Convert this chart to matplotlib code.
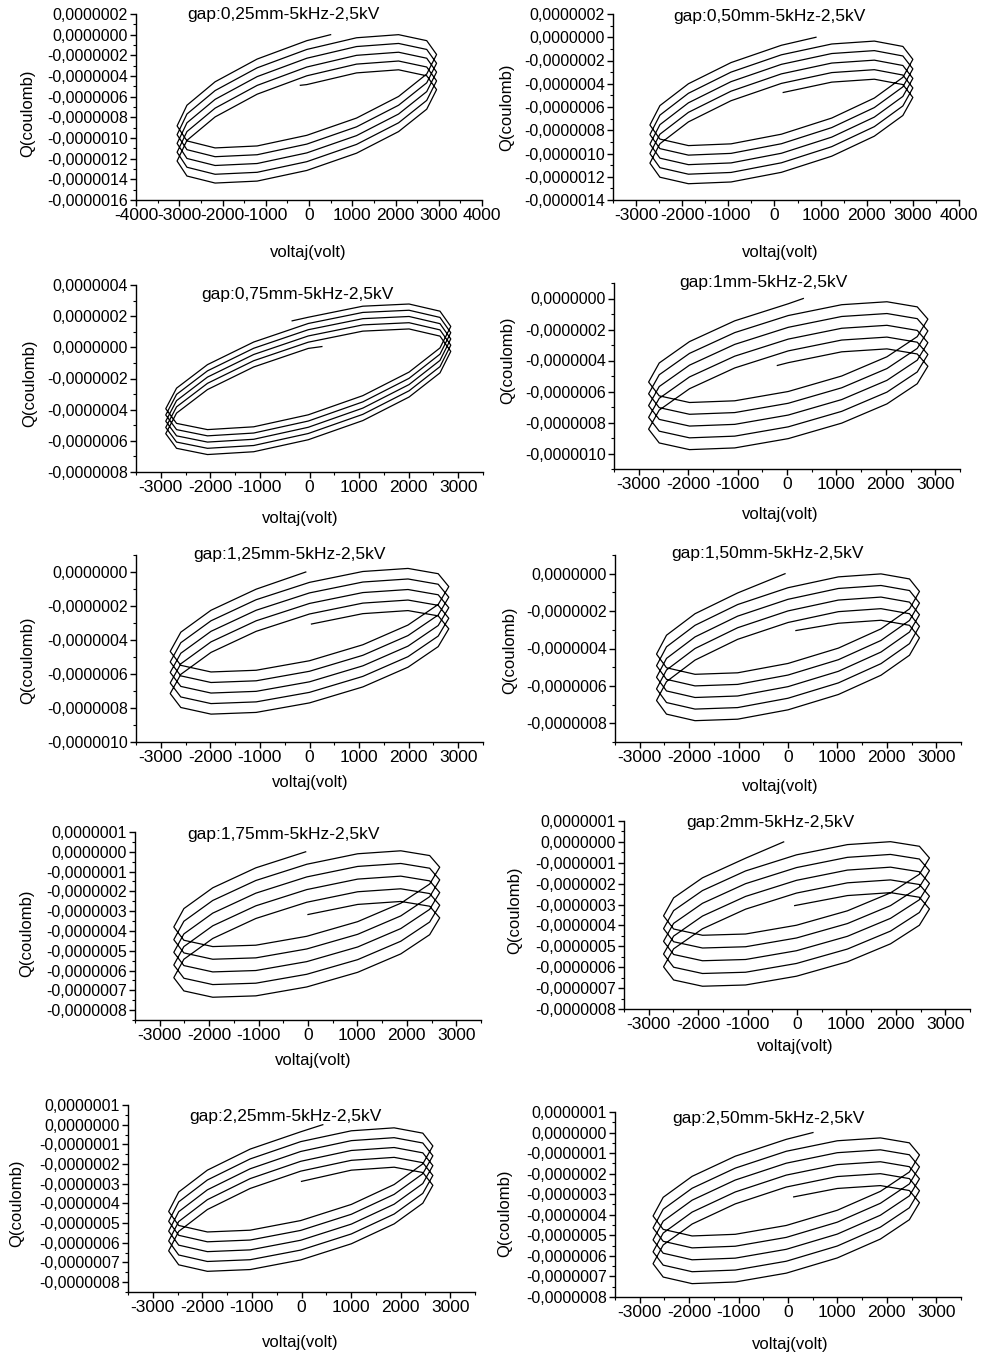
import matplotlib
matplotlib.use("Agg")
import matplotlib.pyplot as plt
from matplotlib.ticker import MultipleLocator, FuncFormatter

plt.rcParams['font.family'] = ['Liberation Sans', 'DejaVu Sans']
plt.rcParams['axes.unicode_minus'] = False

# Q-V Lissajous traces.
# voltages in volt, charges in units of 1e-7 coulomb.
# vcyc = voltage at the 16 read points of one period (same every period),
# q = charge at each read point along the trace, start/end = free ends of the trace.

titles = ["gap:0,25mm-5kHz-2,5kV", "gap:0,50mm-5kHz-2,5kV", "gap:0,75mm-5kHz-2,5kV",
          "gap:1mm-5kHz-2,5kV", "gap:1,25mm-5kHz-2,5kV", "gap:1,50mm-5kHz-2,5kV",
          "gap:1,75mm-5kHz-2,5kV", "gap:2mm-5kHz-2,5kV", "gap:2,25mm-5kHz-2,5kV",
          "gap:2,50mm-5kHz-2,5kV"]

p1_vcyc = [-50, -1199, -2171, -2822, -3050, -2822, -2171, -1199, -50, 1099, 2071, 2722, 2950, 2722, 2071, 1099]
p1_first = 0
p1_start = (500, 0.0)
p1_end = (-200, -4.9)
p1_q = [-0.58, -2.36, -4.56, -6.83, -8.83, -10.28, -10.96, -10.77, -9.74, -8.07, -5.98, -3.81, -1.92, -0.58, 0.00, -0.30,
        -1.43, -3.21, -5.41, -7.68, -9.68, -11.13, -11.81, -11.62, -10.59, -8.92, -6.83, -4.66, -2.77, -1.43, -0.85, -1.15,
        -2.28, -4.06, -6.26, -8.53, -10.53, -11.98, -12.66, -12.47, -11.44, -9.77, -7.68, -5.51, -3.62, -2.28, -1.70, -2.00,
        -3.13, -4.91, -7.11, -9.38, -11.38, -12.83, -13.51, -13.32, -12.29, -10.62, -8.53, -6.36, -4.47, -3.13, -2.55, -2.85,
        -3.98, -5.76, -7.96, -10.23, -12.23, -13.68, -14.36, -14.17, -13.14, -11.47, -9.38, -7.21, -5.32, -3.98, -3.40, -3.70,
        -4.83]

p2_vcyc = [150, -942, -1865, -2483, -2700, -2483, -1865, -942, 150, 1242, 2165, 2783, 3000, 2783, 2165, 1242]
p2_first = 0
p2_start = (900, 0.0)
p2_end = (190, -4.75)
p2_q = [-0.69, -2.18, -4.00, -5.88, -7.55, -8.76, -9.32, -9.17, -8.34, -6.95, -5.23, -3.45, -1.90, -0.79, -0.33, -0.58,
        -1.51, -3.00, -4.82, -6.70, -8.37, -9.58, -10.14, -9.99, -9.16, -7.77, -6.05, -4.27, -2.72, -1.61, -1.15, -1.40,
        -2.33, -3.82, -5.64, -7.52, -9.19, -10.40, -10.96, -10.81, -9.98, -8.59, -6.87, -5.09, -3.54, -2.43, -1.97, -2.22,
        -3.15, -4.64, -6.46, -8.34, -10.01, -11.22, -11.78, -11.63, -10.80, -9.41, -7.69, -5.91, -4.36, -3.25, -2.79, -3.04,
        -3.97, -5.46, -7.28, -9.16, -10.83, -12.04, -12.60, -12.45, -11.62, -10.23, -8.51, -6.73, -5.18, -4.07, -3.61, -3.86]

p3_vcyc = [-25, -1126, -2058, -2682, -2900, -2682, -2058, -1126, -25, 1076, 2008, 2632, 2850, 2632, 2008, 1076]
p3_first = 0
p3_start = (250, 0.05)
p3_end = (-350, 1.7)
p3_q = [-0.07, -1.26, -2.71, -4.22, -5.54, -6.48, -6.88, -6.70, -5.93, -4.70, -3.19, -1.64, -0.26, 0.72, 1.18, 1.04,
        0.33, -0.86, -2.31, -3.82, -5.14, -6.08, -6.48, -6.30, -5.53, -4.30, -2.79, -1.24, 0.14, 1.12, 1.58, 1.44,
        0.73, -0.46, -1.91, -3.42, -4.74, -5.68, -6.08, -5.90, -5.13, -3.90, -2.39, -0.84, 0.54, 1.52, 1.98, 1.84,
        1.13, -0.06, -1.51, -3.02, -4.34, -5.28, -5.68, -5.50, -4.73, -3.50, -1.99, -0.44, 0.94, 1.92, 2.38, 2.24,
        1.53, 0.34, -1.11, -2.62, -3.94, -4.88, -5.28, -5.10, -4.33, -3.10, -1.59, -0.04, 1.34, 2.32, 2.78, 2.64,
        1.93]

p4_vcyc = [25, -1057, -1972, -2585, -2800, -2585, -1972, -1057, 25, 1107, 2022, 2635, 2850, 2635, 2022, 1107]
p4_first = 0
p4_start = (330, 0.0)
p4_end = (-195, -4.32)
p4_q = [-0.34, -1.44, -2.78, -4.16, -5.39, -6.28, -6.71, -6.60, -6.00, -5.00, -3.76, -2.46, -1.33, -0.54, -0.21, -0.40,
        -1.10, -2.20, -3.54, -4.92, -6.15, -7.04, -7.47, -7.36, -6.76, -5.76, -4.52, -3.22, -2.09, -1.30, -0.97, -1.16,
        -1.86, -2.96, -4.30, -5.68, -6.91, -7.80, -8.23, -8.12, -7.52, -6.52, -5.28, -3.98, -2.85, -2.06, -1.73, -1.92,
        -2.62, -3.72, -5.06, -6.44, -7.67, -8.56, -8.99, -8.88, -8.28, -7.28, -6.04, -4.74, -3.61, -2.82, -2.49, -2.68,
        -3.38, -4.48, -5.82, -7.20, -8.43, -9.32, -9.75, -9.64, -9.04, -8.04, -6.80, -5.50, -4.37, -3.58, -3.25, -3.44,
        -4.14]

p5_vcyc = [0, -1076, -1987, -2596, -2810, -2596, -1987, -1076, 0, 1076, 1987, 2596, 2810, 2596, 1987, 1076]
p5_first = 1
p5_start = (-75, 0.0)
p5_end = (40, -3.06)
p5_q = [-1.01, -2.25, -3.54, -4.67, -5.49, -5.88, -5.78, -5.22, -4.28, -3.12, -1.91, -0.86, -0.10, 0.21, 0.03,
        -0.61, -1.63, -2.87, -4.16, -5.29, -6.11, -6.50, -6.40, -5.84, -4.90, -3.74, -2.53, -1.48, -0.72, -0.41, -0.59,
        -1.23, -2.25, -3.49, -4.78, -5.91, -6.73, -7.12, -7.02, -6.46, -5.52, -4.36, -3.15, -2.10, -1.34, -1.03, -1.21,
        -1.85, -2.87, -4.11, -5.40, -6.53, -7.35, -7.74, -7.64, -7.08, -6.14, -4.98, -3.77, -2.72, -1.96, -1.65, -1.83,
        -2.47, -3.49, -4.73, -6.02, -7.15, -7.97, -8.36, -8.26, -7.70, -6.76, -5.60, -4.39, -3.34, -2.58, -2.27, -2.45]

p6_vcyc = [0, -1019, -1881, -2458, -2660, -2458, -1881, -1019, 0, 1019, 1881, 2458, 2660, 2458, 1881, 1019]
p6_first = 1
p6_start = (-60, 0.0)
p6_end = (160, -3.04)
p6_q = [-1.03, -2.14, -3.29, -4.30, -5.03, -5.38, -5.30, -4.80, -3.98, -2.95, -1.88, -0.95, -0.28, -0.01, -0.17,
        -0.75, -1.65, -2.76, -3.91, -4.92, -5.65, -6.00, -5.92, -5.42, -4.60, -3.57, -2.50, -1.57, -0.90, -0.63, -0.79,
        -1.37, -2.27, -3.38, -4.53, -5.54, -6.27, -6.62, -6.54, -6.04, -5.22, -4.19, -3.12, -2.19, -1.52, -1.25, -1.41,
        -1.99, -2.89, -4.00, -5.15, -6.16, -6.89, -7.24, -7.16, -6.66, -5.84, -4.81, -3.74, -2.81, -2.14, -1.87, -2.03,
        -2.61, -3.51, -4.62, -5.77, -6.78, -7.51, -7.86, -7.78, -7.28, -6.46, -5.43, -4.36, -3.43, -2.76, -2.49, -2.65]

p7_vcyc = [-25, -1055, -1927, -2511, -2715, -2511, -1927, -1055, -25, 1005, 1877, 2461, 2665, 2461, 1877, 1005]
p7_first = 1
p7_start = (-47, 0.0)
p7_end = (0, -3.17)
p7_q = [-0.81, -1.82, -2.87, -3.80, -4.47, -4.79, -4.72, -4.27, -3.53, -2.60, -1.63, -0.78, -0.19, 0.05, -0.10,
        -0.63, -1.45, -2.46, -3.51, -4.44, -5.11, -5.43, -5.36, -4.91, -4.17, -3.24, -2.27, -1.42, -0.83, -0.59, -0.74,
        -1.27, -2.09, -3.10, -4.15, -5.08, -5.75, -6.07, -6.00, -5.55, -4.81, -3.88, -2.91, -2.06, -1.47, -1.23, -1.38,
        -1.91, -2.73, -3.74, -4.79, -5.72, -6.39, -6.71, -6.64, -6.19, -5.45, -4.52, -3.55, -2.70, -2.11, -1.87, -2.02,
        -2.55, -3.37, -4.38, -5.43, -6.36, -7.03, -7.35, -7.28, -6.83, -6.09, -5.16, -4.19, -3.34, -2.75, -2.51, -2.66]

p8_vcyc = [-10, -1040, -1912, -2496, -2700, -2496, -1912, -1040, -10, 1020, 1892, 2476, 2680, 2476, 1892, 1020]
p8_first = 1
p8_start = (-270, 0.0)
p8_end = (-47, -3.05)
p8_q = [-0.78, -1.72, -2.68, -3.54, -4.17, -4.47, -4.41, -3.99, -3.30, -2.44, -1.55, -0.77, -0.21, 0.01, -0.13,
        -0.62, -1.39, -2.33, -3.29, -4.15, -4.78, -5.08, -5.02, -4.60, -3.91, -3.05, -2.16, -1.38, -0.82, -0.60, -0.74,
        -1.23, -2.00, -2.94, -3.90, -4.76, -5.39, -5.69, -5.63, -5.21, -4.52, -3.66, -2.77, -1.99, -1.43, -1.21, -1.35,
        -1.84, -2.61, -3.55, -4.51, -5.37, -6.00, -6.30, -6.24, -5.82, -5.13, -4.27, -3.38, -2.60, -2.04, -1.82, -1.96,
        -2.45, -3.22, -4.16, -5.12, -5.98, -6.61, -6.91, -6.85, -6.43, -5.74, -4.88, -3.99, -3.21, -2.65, -2.43, -2.57]

p9_vcyc = [-15, -1036, -1899, -2477, -2680, -2477, -1899, -1036, -15, 1006, 1869, 2447, 2650, 2447, 1869, 1006]
p9_first = 0
p9_start = (430, 0.0)
p9_end = (0, -2.88)
p9_q = [-0.36, -1.24, -2.31, -3.42, -4.41, -5.12, -5.45, -5.36, -4.87, -4.05, -3.04, -1.99, -1.08, -0.43, -0.16, -0.31,
        -0.86, -1.74, -2.81, -3.92, -4.91, -5.62, -5.95, -5.86, -5.37, -4.55, -3.54, -2.49, -1.58, -0.93, -0.66, -0.81,
        -1.36, -2.24, -3.31, -4.42, -5.41, -6.12, -6.45, -6.36, -5.87, -5.05, -4.04, -2.99, -2.08, -1.43, -1.16, -1.31,
        -1.86, -2.74, -3.81, -4.92, -5.91, -6.62, -6.95, -6.86, -6.37, -5.55, -4.54, -3.49, -2.58, -1.93, -1.66, -1.81,
        -2.36, -3.24, -4.31, -5.42, -6.41, -7.12, -7.45, -7.36, -6.87, -6.05, -5.04, -3.99, -3.08, -2.43, -2.16, -2.31]

p10_vcyc = [-35, -1067, -1940, -2525, -2730, -2525, -1940, -1067, -35, 997, 1870, 2455, 2660, 2455, 1870, 997]
p10_first = 0
p10_start = (505, 0.0)
p10_end = (115, -3.13)
p10_q = [-0.33, -1.15, -2.13, -3.15, -4.06, -4.71, -5.03, -4.95, -4.52, -3.78, -2.86, -1.92, -1.09, -0.50, -0.26, -0.40,
         -0.91, -1.73, -2.71, -3.73, -4.64, -5.29, -5.61, -5.53, -5.10, -4.36, -3.44, -2.50, -1.67, -1.08, -0.84, -0.98,
         -1.49, -2.31, -3.29, -4.31, -5.22, -5.87, -6.19, -6.11, -5.68, -4.94, -4.02, -3.08, -2.25, -1.66, -1.42, -1.56,
         -2.07, -2.89, -3.87, -4.89, -5.80, -6.45, -6.77, -6.69, -6.26, -5.52, -4.60, -3.66, -2.83, -2.24, -2.00, -2.14,
         -2.65, -3.47, -4.45, -5.47, -6.38, -7.03, -7.35, -7.27, -6.84, -6.10, -5.18, -4.24, -3.41, -2.82, -2.58, -2.72]

traces = [
    (p1_vcyc, p1_first, p1_start, p1_end, p1_q),
    (p2_vcyc, p2_first, p2_start, p2_end, p2_q),
    (p3_vcyc, p3_first, p3_start, p3_end, p3_q),
    (p4_vcyc, p4_first, p4_start, p4_end, p4_q),
    (p5_vcyc, p5_first, p5_start, p5_end, p5_q),
    (p6_vcyc, p6_first, p6_start, p6_end, p6_q),
    (p7_vcyc, p7_first, p7_start, p7_end, p7_q),
    (p8_vcyc, p8_first, p8_start, p8_end, p8_q),
    (p9_vcyc, p9_first, p9_start, p9_end, p9_q),
    (p10_vcyc, p10_first, p10_start, p10_end, p10_q),
]

# axis ranges
xlims = [(-4000, 4000), (-3500, 4000)] + [(-3500, 3500)] * 8
ylims = [(-16e-7, 2e-7), (-14e-7, 2e-7), (-8e-7, 4e-7), (-11e-7, 1e-7), (-10e-7, 1e-7),
         (-9e-7, 1e-7), (-8.5e-7, 1e-7), (-8e-7, 1e-7), (-8.5e-7, 1e-7), (-8e-7, 1e-7)]
ysteps = [2e-7] * 6 + [1e-7] * 4

# layout in pixels: axes box (left, right, top, bottom), title centre, xlabel centre, ylabel centre
W, H = 983, 1357
boxes = [(136, 482, 14, 200), (613, 959, 14, 200), (136, 483, 285, 472), (614, 960, 283, 469),
         (136, 483, 555, 742), (615, 961, 555, 742), (135, 481, 832, 1020), (624, 970, 821, 1009),
         (128, 475, 1105, 1292), (615, 961, 1112, 1297)]
title_xy = [(283, 14), (769, 17), (297, 295), (763, 282), (290, 555), (767, 553),
            (284, 835), (770, 822), (285, 1117), (768, 1118)]
xlab_xy = [(308, 252), (780, 252), (300, 518), (780, 515), (310, 783), (780, 787),
           (313, 1060), (795, 1047), (300, 1342), (790, 1345)]
ylab_xy = [(28, 113), (507, 107), (30, 383), (508, 360), (28, 660), (510, 650),
           (27, 933), (515, 910), (17, 1203), (505, 1213)]


def qfmt(v, pos):
    if abs(v) < 1e-12:
        return "0,0000000"
    return f"{v:.7f}".replace('.', ',')


fig = plt.figure(figsize=(W / 100, H / 100), dpi=100)

for i in range(10):
    vcyc, first, start, end, q = traces[i]
    v = [start[0]] + [vcyc[(first + j) % 16] for j in range(len(q))] + [end[0]]
    qq = [start[1]] + q + [end[1]]
    qq = [x * 1e-7 for x in qq]

    l, r, t, b = boxes[i]
    ax = fig.add_axes([l / W, 1 - b / H, (r - l) / W, (b - t) / H])
    ax.plot(v, qq, color='black', lw=0.9)

    ax.set_xlim(*xlims[i])
    ax.set_ylim(*ylims[i])
    ax.xaxis.set_major_locator(MultipleLocator(1000))
    ax.xaxis.set_minor_locator(MultipleLocator(500))
    ax.yaxis.set_major_locator(MultipleLocator(ysteps[i]))
    ax.yaxis.set_minor_locator(MultipleLocator(ysteps[i] / 2))
    ax.yaxis.set_major_formatter(FuncFormatter(qfmt))
    ax.spines['top'].set_visible(False)
    ax.spines['right'].set_visible(False)
    ax.spines['left'].set_linewidth(1.0)
    ax.spines['bottom'].set_linewidth(1.0)
    ax.tick_params(which='major', direction='out', length=4, width=1.0, pad=2)
    ax.tick_params(which='minor', direction='out', length=2, width=0.8)
    ax.tick_params(axis='y', which='major', labelsize=11.5)
    ax.tick_params(axis='x', which='major', labelsize=12.5, pad=2)
    ax.patch.set_alpha(0)

    tx, ty = title_xy[i]
    fig.text(tx / W, 1 - ty / H, titles[i], ha='center', va='center', fontsize=12.5)
    xx, xy = xlab_xy[i]
    fig.text(xx / W, 1 - xy / H, "voltaj(volt)", ha='center', va='center', fontsize=12)
    yx, yy = ylab_xy[i]
    fig.text(yx / W, 1 - yy / H, "Q(coulomb)", ha='center', va='center', rotation=90, fontsize=12)

fig.savefig("out.png", dpi=100)
